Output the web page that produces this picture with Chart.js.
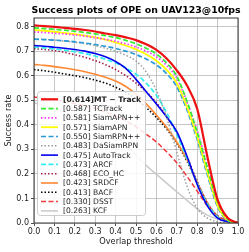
<!DOCTYPE html>
<html><head><meta charset="utf-8">
<script src="https://cdn.jsdelivr.net/npm/chart.js@4/dist/chart.umd.min.js"></script>
<style>html,body{margin:0;padding:0;background:#fff;}#wrap{width:249px;height:252px;}</style>
</head><body><div id="wrap"><canvas id="c" width="249" height="252"></canvas></div>
<script>
const thresholds = [0,0.05,0.1,0.15,0.2,0.25,0.3,0.35,0.4,0.45,0.5,0.55,0.6,0.65,0.7,0.75,0.8,0.85,0.9,0.95,1.0];
const xTicks = [0,0.1,0.2,0.3,0.4,0.5,0.6,0.7,0.8,0.9,1.0];
const yTicks = [0,0.1,0.2,0.3,0.4,0.5,0.6,0.7,0.8];
const titleText = 'Success plots of OPE on UAV123@10fps';
const xTitle = 'Overlap threshold';
const yTitle = 'Success rate';
const trackerNames = ['[0.614]MT \u2212 Track','[0.587] TCTrack','[0.581] SiamAPN++','[0.571] SiamAPN','[0.550] SiamRPN++','[0.483] DaSiamRPN','[0.475] AutoTrack','[0.473] ARCF','[0.468] ECO_HC','[0.423] SRDCF','[0.413] BACF','[0.330] DSST','[0.263] KCF'];
const mtTrack   = [0.805,0.802,0.799,0.795,0.791,0.786,0.780,0.772,0.765,0.756,0.745,0.728,0.705,0.670,0.622,0.560,0.465,0.270,0.095,0.020,0];
const tcTrack   = [0.795,0.792,0.789,0.785,0.781,0.776,0.770,0.763,0.755,0.744,0.730,0.712,0.688,0.652,0.598,0.495,0.370,0.225,0.085,0.015,0];
const siamApnPP = [0.778,0.776,0.773,0.770,0.766,0.761,0.755,0.748,0.740,0.730,0.717,0.700,0.677,0.642,0.590,0.492,0.375,0.235,0.090,0.018,0];
const siamApn   = [0.786,0.783,0.779,0.774,0.769,0.763,0.756,0.747,0.736,0.723,0.707,0.687,0.661,0.624,0.570,0.472,0.352,0.207,0.072,0.012,0];
const siamRpnPP = [0.749,0.747,0.745,0.742,0.738,0.733,0.727,0.720,0.711,0.700,0.686,0.668,0.644,0.608,0.555,0.460,0.340,0.195,0.065,0.010,0];
const daSiamRpn = [0.750,0.748,0.745,0.741,0.736,0.730,0.722,0.712,0.699,0.683,0.660,0.615,0.540,0.430,0.290,0.150,0.060,0.020,0.005,0,0];
const autoTrack = [0.723,0.720,0.716,0.712,0.707,0.700,0.690,0.677,0.658,0.630,0.585,0.535,0.485,0.432,0.372,0.272,0.157,0.070,0.020,0.005,0];
const arcf      = [0.716,0.713,0.709,0.704,0.698,0.690,0.680,0.667,0.652,0.632,0.606,0.570,0.520,0.450,0.360,0.262,0.162,0.077,0.025,0.005,0];
const ecoHc     = [0.710,0.707,0.702,0.695,0.685,0.675,0.661,0.645,0.625,0.600,0.570,0.535,0.490,0.435,0.365,0.270,0.170,0.080,0.028,0.006,0];
const srdcf     = [0.646,0.642,0.637,0.631,0.624,0.616,0.606,0.594,0.578,0.556,0.525,0.485,0.440,0.390,0.330,0.258,0.165,0.082,0.026,0.005,0];
const bacf      = [0.625,0.620,0.614,0.607,0.600,0.592,0.582,0.570,0.553,0.532,0.505,0.470,0.430,0.383,0.325,0.252,0.163,0.082,0.026,0.005,0];
const dsst      = [0.513,0.508,0.502,0.495,0.487,0.477,0.466,0.452,0.436,0.416,0.392,0.362,0.330,0.290,0.245,0.190,0.130,0.070,0.030,0.010,0];
const kcf       = [0.490,0.478,0.465,0.451,0.435,0.417,0.397,0.375,0.350,0.320,0.275,0.235,0.198,0.162,0.127,0.092,0.058,0.032,0.016,0.006,0];

const series = [mtTrack,tcTrack,siamApnPP,siamApn,siamRpnPP,daSiamRpn,autoTrack,arcf,ecoHc,srdcf,bacf,dsst,kcf];
const DASH=[5,2.5], DOT=[1.5,2];
const styles = [
  {c:'#ee1111',w:2.2,d:[]},
  {c:'#33ee33',w:1.7,d:DASH},
  {c:'#ff33ff',w:1.7,d:DOT},
  {c:'#ffff00',w:1.8,d:[]},
  {c:'#2b99d6',w:1.7,d:DASH},
  {c:'#999999',w:1.4,d:DOT},
  {c:'#0000ee',w:1.6,d:[]},
  {c:'#33eeee',w:1.7,d:DASH},
  {c:'#a3204d',w:1.6,d:DOT},
  {c:'#ff8833',w:1.6,d:[]},
  {c:'#000000',w:1.6,d:DOT},
  {c:'#ee3a3a',w:1.5,d:DASH},
  {c:'#cccccc',w:1.6,d:[]}
];
const FONT='"DejaVu Sans", sans-serif';

const datasets = series.map((s,i)=>({
  label: trackerNames[i],
  data: s.map((v,j)=>({x:thresholds[j],y:v})),
  borderColor: styles[i].c,
  borderWidth: styles[i].w,
  borderDash: styles[i].d,
  pointRadius: 0,
  fill:false,
  cubicInterpolationMode:'monotone'
}));

const deco = {
  id:'deco',
  afterDraw(chart){
    const ctx=chart.ctx, a=chart.chartArea;
    ctx.save();
    ctx.strokeStyle='#222'; ctx.lineWidth=0.9; ctx.setLineDash([]);
    ctx.strokeRect(a.left, a.top, a.right-a.left, a.bottom-a.top);
    // title
    ctx.fillStyle='#000'; ctx.font='bold 9.4px '+FONT; ctx.textAlign='center'; ctx.textBaseline='middle';
    ctx.fillText(titleText, (a.left+a.right)/2, 10.5);
    // axis titles
    ctx.fillStyle='#222'; ctx.font='8.2px '+FONT;
    ctx.fillText(xTitle, (a.left+a.right)/2, 242);
    ctx.save(); ctx.translate(8.5,(a.top+a.bottom)/2); ctx.rotate(-Math.PI/2);
    ctx.fillText(yTitle,0,0); ctx.restore();
    // legend
    const lx=37, ly=91, lw=108, lh=124;
    ctx.fillStyle='rgba(255,255,255,0.85)'; ctx.strokeStyle='#cccccc'; ctx.lineWidth=1;
    ctx.beginPath(); ctx.roundRect(lx+0.5,ly+0.5,lw,lh,3); ctx.fill(); ctx.stroke();
    chart.data.datasets.forEach((ds,i)=>{
      const y=99.3+i*9.3;
      ctx.strokeStyle=ds.borderColor; ctx.lineWidth=ds.borderWidth; ctx.setLineDash(ds.borderDash);
      ctx.beginPath(); ctx.moveTo(41,y); ctx.lineTo(58,y); ctx.stroke();
      ctx.setLineDash([]);
      ctx.fillStyle='#222'; ctx.textAlign='left'; ctx.textBaseline='middle';
      ctx.font=(i===0?'bold ':'')+'7.6px '+FONT;
      ctx.fillText(ds.label, 63, y+0.5);
    });
    ctx.restore();
  }
};

new Chart(document.getElementById('c'),{
  type:'line',
  data:{datasets},
  plugins:[deco],
  options:{
    responsive:false, animation:false,
    layout:{padding:{top:18,right:11,left:0,bottom:0}},
    plugins:{legend:{display:false},tooltip:{enabled:false},title:{display:false}},
    scales:{
      x:{type:'linear',min:0,max:1,
        afterBuildTicks:s=>{s.ticks=xTicks.map(v=>({value:v}));},
        afterFit:s=>{s.height=29;},
        ticks:{font:{family:FONT,size:8},color:'#222',padding:1,maxRotation:0,callback:v=>v.toFixed(1)},
        grid:{color:'#b8b8b8',lineWidth:0.8,tickLength:3,tickColor:'#222',drawTicks:true},
        border:{display:false},
        title:{display:false}
      },
      y:{type:'linear',min:0,max:0.835,
        afterBuildTicks:s=>{s.ticks=yTicks.map(v=>({value:v}));},
        afterFit:s=>{s.width=34;},
        ticks:{font:{family:FONT,size:8},color:'#222',padding:2,callback:v=>v.toFixed(1)},
        grid:{color:'#b8b8b8',lineWidth:0.8,tickLength:3,tickColor:'#222',drawTicks:true},
        border:{display:false},
        title:{display:false}
      }
    }
  }
});
</script></body></html>
